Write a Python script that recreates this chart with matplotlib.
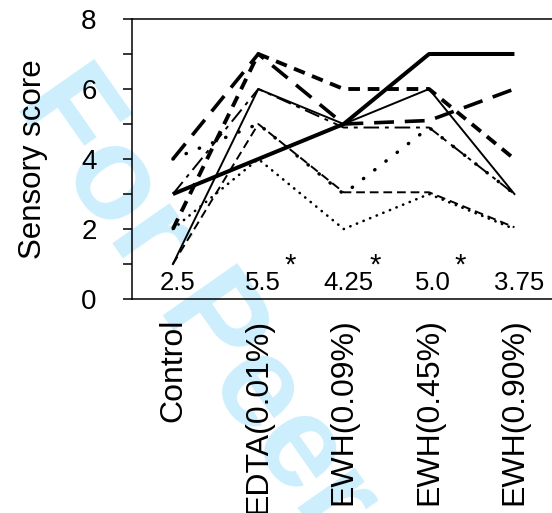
import matplotlib
matplotlib.use('Agg')
from matplotlib import pyplot as plt
from matplotlib.ticker import MultipleLocator

plt.rcParams['font.family'] = ['Liberation Sans', 'DejaVu Sans']

treatments = ['Control', 'EDTA(0.01%)', 'EWH(0.09%)', 'EWH(0.45%)', 'EWH(0.90%)']
means = ['2.5', '5.5', '4.25', '5.0', '3.75']
significant = [False, True, True, True, False]

# one line per panelist
p1 = [3, 4, 5, 7, 7]
p2 = [1, 6, 5, 6, 3]
p3 = [2, 7, 6, 6, 4]
p4 = [4, 7, 5, 5.1, 6]
p5 = [3, 6, 4.9, 4.9, 3]
p6 = [4, 5, 3, 4.9, 3]
p7 = [1, 5, 3.05, 3.05, 2.05]
p8 = [2, 4, 2, 3, 2]

x = list(range(len(treatments)))

fig = plt.figure(figsize=(5.52, 5.13), dpi=100)
fig.text(0.355, 0.41, 'For Peer', rotation=-55, fontsize=95, fontweight='bold',
         color='#cdeefc', ha='center', va='center', zorder=-5)

ax = fig.add_axes([0.239, 0.417, 0.761, 0.546])
ax.set_facecolor('none')

ax.plot(x, p1, color='black', lw=2.9, solid_capstyle='butt')
ax.plot(x, p2, color='black', lw=1.4)
ax.plot(x, p3, color='black', lw=2.8, linestyle=(0, (3, 2)))
ax.plot(x, p4, color='black', lw=2.6, linestyle=(0, (5.5, 3)))
ax.plot(x, p5, color='black', lw=1.4, linestyle=(0, (8, 3, 2, 3)))
ax.plot(x, p6, color='black', lw=2.5, linestyle=(0, (0.1, 4)), dash_capstyle='round')
ax.plot(x, p7, color='black', lw=1.4, linestyle=(0, (4.5, 2.5)))
ax.plot(x, p8, color='black', lw=1.9, linestyle=(0, (0.1, 2.6)), dash_capstyle='round')

for i, m in enumerate(means):
    ax.text(x[i] + 0.05, 0.46, m, fontsize=18.5, ha='center', va='center')
    if significant[i]:
        ax.text(x[i] + 0.37, 0.95, '*', fontsize=21, ha='center', va='center')

ax.set_xlim(-0.48, 4.44)
ax.set_ylim(0, 8)
ax.yaxis.set_major_locator(MultipleLocator(2))
ax.yaxis.set_minor_locator(MultipleLocator(1))
ax.tick_params(axis='y', which='both', direction='out', length=6.5, width=1.1,
               labelsize=20, pad=19)
ax.set_xticks(x)
ax.set_xticklabels(treatments, rotation=90, fontsize=23)
ax.tick_params(axis='x', length=0, pad=14)
ax.set_ylabel('Sensory score', fontsize=22.5, labelpad=24)
for s in ['left', 'top', 'bottom']:
    ax.spines[s].set_linewidth(1.1)
ax.spines['right'].set_visible(False)

fig.savefig('out.png', dpi=100)
